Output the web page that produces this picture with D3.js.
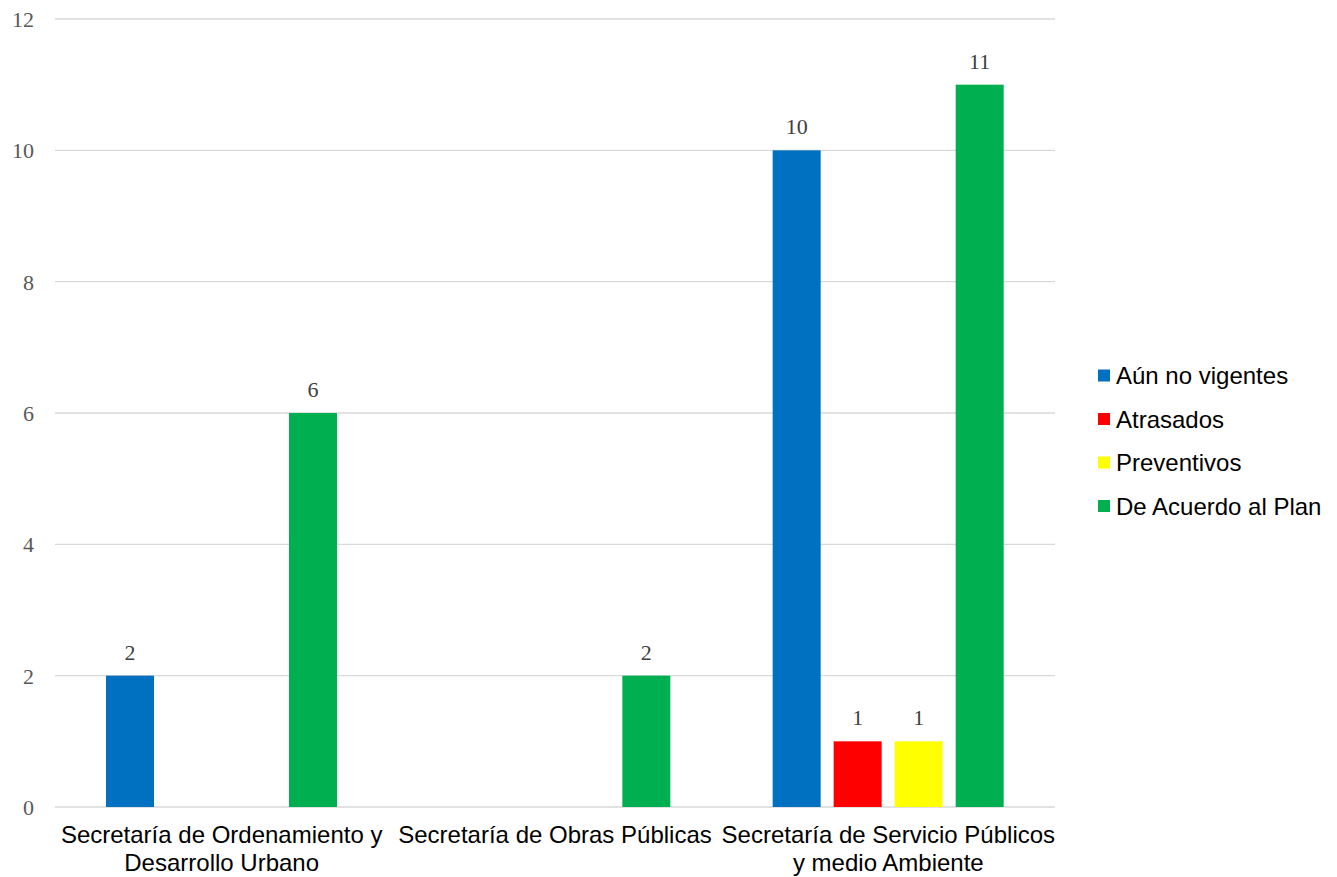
<!DOCTYPE html>
<html><head><meta charset="utf-8">
<script src="https://cdn.jsdelivr.net/npm/d3@7"></script>
<style>body{margin:0;background:#fff}</style>
</head><body>
<svg id="c" width="1337" height="877"></svg>
<script>
const categories = [["Secretaría de Ordenamiento y","Desarrollo Urbano"],["Secretaría de Obras Públicas"],["Secretaría de Servicio Públicos","y medio Ambiente"]];
const seriesNames = ["Aún no vigentes","Atrasados","Preventivos","De Acuerdo al Plan"];
const seriesColors = ["#0070C0","#FF0000","#FFFF00","#00B050"];
const aunNoVigentes = [2,null,10];
const atrasados = [null,null,1];
const preventivos = [null,null,1];
const deAcuerdo = [6,2,11];
const yTicks = [0,2,4,6,8,10,12];

(function(){
const values = [aunNoVigentes, atrasados, preventivos, deAcuerdo];
const svg = d3.select("#c");
const L=55, R=1055, T=19, B=807;
const x0 = d3.scaleBand().domain(d3.range(categories.length)).range([L,R]).paddingInner(0).paddingOuter(0);
const x1 = d3.scaleBand().domain(d3.range(seriesNames.length)).range([51,51+231]).paddingInner(13/61).paddingOuter(0);
const y = d3.scaleLinear().domain([0,12]).range([B,T]);

svg.append("g").selectAll("line").data(yTicks).join("line")
  .attr("x1",L).attr("x2",R).attr("y1",d=>y(d)).attr("y2",d=>y(d))
  .attr("stroke","#d9d9d9").attr("stroke-width",1.3);
svg.append("g").selectAll("text").data(yTicks).join("text")
  .attr("x",34).attr("y",d=>y(d)+8).attr("text-anchor","end")
  .attr("font-family","Liberation Serif").attr("font-size",22).attr("fill","#595959").text(d=>d);

const bars=[];
values.forEach((arr,s)=>arr.forEach((v,c)=>{ if(v!=null) bars.push({s,c,v}); }));
const bw = x1.bandwidth();
const gx = d=> x0(d.c) + x1(d.s);
svg.append("g").selectAll("rect").data(bars).join("rect")
  .attr("x",gx).attr("width",bw).attr("y",d=>y(d.v)).attr("height",d=>y(0)-y(d.v))
  .attr("fill",d=>seriesColors[d.s]);
svg.append("g").selectAll("text").data(bars).join("text")
  .attr("x",d=>gx(d)+bw/2).attr("y",d=>y(d.v)-16).attr("text-anchor","middle")
  .attr("font-family","Liberation Serif").attr("font-size",22).attr("fill","#404040").text(d=>d.v);

const cat = svg.append("g").selectAll("text").data(categories).join("text")
  .attr("text-anchor","middle").attr("font-family","Liberation Sans").attr("font-size",24).attr("fill","#000");
cat.each(function(lines,i){
  const t=d3.select(this);
  lines.forEach((l,j)=>t.append("tspan").attr("x",x0(i)+x0.bandwidth()/2).attr("y",843+j*28).text(l));
});

const leg = svg.append("g").selectAll("g").data(seriesNames).join("g")
  .attr("transform",(d,i)=>`translate(1098,${375.5+i*43.5})`);
leg.append("rect").attr("x",0).attr("y",-6).attr("width",12).attr("height",12).attr("fill",(d,i)=>seriesColors[i]);
leg.append("text").attr("x",18).attr("y",8.5).attr("font-family","Liberation Sans").attr("font-size",24).attr("fill","#000").text(d=>d);
})();
</script>
</body></html>
